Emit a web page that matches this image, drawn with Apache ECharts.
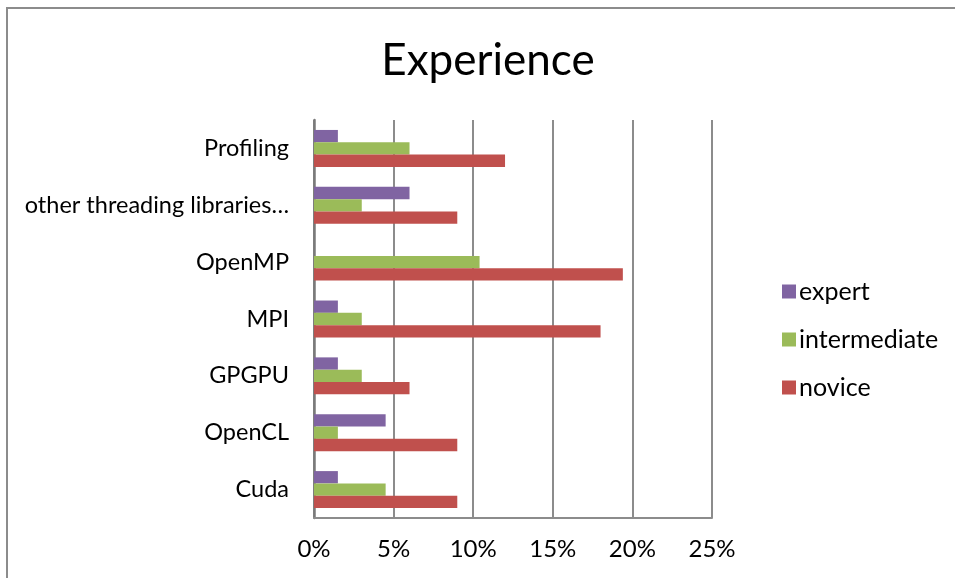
<!DOCTYPE html>
<html>
<head>
<meta charset="utf-8">
<script src="https://cdn.jsdelivr.net/npm/echarts@6/dist/echarts.min.js"></script>
<style>
  html, body { margin: 0; padding: 0; background: #fff; }
  .frame {
    position: absolute; left: 6px; top: 7px; width: 970px; height: 600px;
    border: 2px solid #8c8c8c;
  }
  #chart { position: absolute; left: 0; top: 0; width: 955px; height: 578px; }
</style>
</head>
<body>
<div class="frame"></div>
<div id="chart"></div>
<script>
// categories bottom to top
const categories = ['Cuda', 'OpenCL', 'GPGPU', 'MPI', 'OpenMP', 'other threading libraries…', 'Profiling']
// percentages
const expert = [1.5, 4.5, 1.5, 1.5, 0, 6, 1.5]
const intermediate = [4.5, 1.5, 3, 3, 10.4, 3, 6]
const novice = [9, 9, 6, 18, 19.4, 9, 12]
const xTicks = [0, 5, 10, 15, 20, 25]

const font = 'Lato, "Open Sans", sans-serif'
const chart = echarts.init(document.getElementById('chart'))

const option = {
  animation: false,
  title: {
    text: 'Experience',
    left: 483,
    textAlign: 'center',
    top: 34,
    textStyle: { fontFamily: font, fontSize: 44, fontWeight: 'normal', color: '#000' }
  },
  legend: {
    orient: 'vertical',
    left: 777,
    top: 274,
    itemWidth: 14,
    itemHeight: 14,
    itemGap: 23,
    icon: 'rect',
    data: ['expert', 'intermediate', 'novice'],
    textStyle: { fontFamily: font, fontSize: 25, color: '#000', padding: [0, 0, 0, -2] }
  },
  grid: { left: 314, right: 243, top: 120, bottom: 60 },
  xAxis: {
    type: 'value',
    min: 0,
    max: 25,
    interval: 5,
    axisLine: { show: true, lineStyle: { color: '#8c8c8c', width: 2 } },
    axisTick: { show: false },
    splitLine: { show: true, lineStyle: { color: '#8c8c8c', width: 2 } },
    axisLabel: {
      margin: 19,
      fontFamily: font, fontSize: 24, color: '#000',
      formatter: v => (xTicks.indexOf(v) >= 0 ? v + '%' : '')
    }
  },
  yAxis: {
    type: 'category',
    data: categories,
    axisLine: { show: true, lineStyle: { color: '#7a7a7a', width: 2.5 } },
    axisTick: { show: false },
    axisLabel: { margin: 25, fontFamily: font, fontSize: 23.5, color: '#000' }
  },
  series: [
    { name: 'expert', type: 'bar', data: expert, barGap: '0%', barCategoryGap: '35%',
      itemStyle: { color: '#8064A2' } },
    { name: 'intermediate', type: 'bar', data: intermediate, barGap: '0%', barCategoryGap: '35%',
      itemStyle: { color: '#9BBB59' } },
    { name: 'novice', type: 'bar', data: novice, barGap: '0%', barCategoryGap: '35%',
      itemStyle: { color: '#C0504D' } }
  ]
}
chart.setOption(option)
</script>
</body>
</html>
